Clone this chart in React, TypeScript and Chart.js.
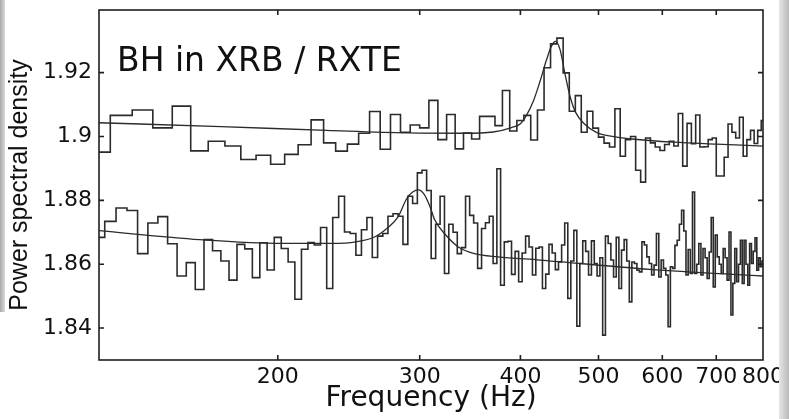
import React, { useEffect, useRef } from 'react';
import { Chart, registerables } from 'chart.js';

Chart.register(...registerables);

// ---- axis ticks ----
const xTickValues = [200, 300, 400, 500, 600, 700, 800];
const yTickValues = [1.84, 1.86, 1.88, 1.9, 1.92];

// ---- binning (bin centres, Hz) ----
const topBinStart = 120;
const topBinStep = 8;
const bottomBinStart = 120;
const bottomBinStep = 4;

// upper spectrum (8 Hz bins, 120 ... 800 Hz)
const topValues = [
  1.8951, 1.9066, 1.9083, 1.9027, 1.9095, 1.8955, 1.8985, 1.8970, 1.8928, 1.8941,
  1.8913, 1.8944, 1.8974, 1.9052, 1.8980, 1.8954, 1.8976, 1.9010, 1.9078, 1.8960,
  1.9069, 1.9013, 1.9036, 1.9027, 1.9113, 1.8990, 1.9069, 1.8961, 1.9011, 1.8992,
  1.9063, 1.9063, 1.9034, 1.9144, 1.9017, 1.9050, 1.9066, 1.8989, 1.9083, 1.9215,
  1.9290, 1.9308, 1.9199, 1.9079, 1.9128, 1.9013, 1.9079, 1.9026, 1.8998, 1.8979,
  1.8967, 1.9087, 1.8938, 1.8990, 1.9000, 1.8894, 1.8857, 1.8995, 1.8980, 1.8967,
  1.8956, 1.8975, 1.8985, 1.8970, 1.9072, 1.8907, 1.9041, 1.8977, 1.9067, 1.8967,
  1.8968, 1.8990, 1.8995, 1.8876, 1.8876, 1.8935, 1.9039, 1.9013, 1.8995, 1.9060,
  1.8938, 1.8990, 1.9019, 1.8978, 1.9019, 1.9050,
];

// lower spectrum (4 Hz bins, 120 ... 800 Hz)
const bottomValues = [
  1.8684, 1.8734, 1.8776, 1.8768, 1.8633, 1.8729, 1.8749, 1.8664, 1.8563, 1.8605,
  1.8521, 1.8677, 1.8642, 1.8610, 1.8550, 1.8662, 1.8648, 1.8558, 1.8667, 1.8582,
  1.8684, 1.8649, 1.8607, 1.8490, 1.8647, 1.8668, 1.8660, 1.8715, 1.8524, 1.8746,
  1.8813, 1.8701, 1.8696, 1.8628, 1.8708, 1.8746, 1.8621, 1.8688, 1.8696, 1.8750,
  1.8758, 1.8750, 1.8662, 1.8813, 1.8790, 1.8886, 1.8894, 1.8831, 1.8618, 1.8725,
  1.8813, 1.8571, 1.8725, 1.8700, 1.8633, 1.8652, 1.8813, 1.8753, 1.8729, 1.8587,
  1.8712, 1.8730, 1.8750, 1.8602, 1.8899, 1.8534, 1.8670, 1.8672, 1.8568, 1.8640,
  1.8545, 1.8635, 1.8688, 1.8654, 1.8566, 1.8650, 1.8654, 1.8524, 1.8569, 1.8662,
  1.8635, 1.8583, 1.8607, 1.8660, 1.8729, 1.8493, 1.8610, 1.8706, 1.8406, 1.8602,
  1.8673, 1.8640, 1.8566, 1.8673, 1.8602, 1.8563, 1.8620, 1.8378, 1.8688, 1.8665,
  1.8613, 1.8560, 1.8684, 1.8524, 1.8644, 1.8677, 1.8610, 1.8482, 1.8607, 1.8602,
  1.8581, 1.8576, 1.8670, 1.8660, 1.8623, 1.8602, 1.8566, 1.8597, 1.8696, 1.8560,
  1.8613, 1.8587, 1.8566, 1.8404, 1.8592, 1.8587, 1.8659, 1.8675, 1.8725, 1.8769,
  1.8704, 1.8566, 1.8646, 1.8571, 1.8826, 1.8571, 1.8600, 1.8665, 1.8566, 1.8649,
  1.8620, 1.8555, 1.8638, 1.8746, 1.8529, 1.8691, 1.8623, 1.8600, 1.8571, 1.8649,
  1.8620, 1.8550, 1.8701, 1.8441, 1.8540, 1.8649, 1.8545, 1.8600, 1.8675, 1.8540,
  1.8675, 1.8600, 1.8534, 1.8665, 1.8602, 1.8640, 1.8683, 1.8581, 1.8620, 1.8592,
  1.8610,
];

// fitted model curves
const topFitFreq = [120, 170, 230, 290, 340, 370, 390, 400, 407, 415, 423, 431, 437, 442, 448, 454, 461, 468, 480, 497, 520, 550, 620, 700, 800];
const topFitValues = [1.9043, 1.9031, 1.9019, 1.9011, 1.9010, 1.9014, 1.9028, 1.9040, 1.9066, 1.9110, 1.9172, 1.9240, 1.9282, 1.9298, 1.9272, 1.9200, 1.9125, 1.9077, 1.9040, 1.9013, 1.9000, 1.8992, 1.8982, 1.8976, 1.8970];
const bottomFitFreq = [120, 160, 203, 234, 250, 264, 274, 282, 289, 294, 299, 304, 309, 313, 322, 335, 351, 375, 423, 579, 800];
const bottomFitValues = [1.8705, 1.8677, 1.8665, 1.8665, 1.8670, 1.8686, 1.8715, 1.8748, 1.8805, 1.8826, 1.8833, 1.8818, 1.8780, 1.8740, 1.8696, 1.8654, 1.8633, 1.8623, 1.8613, 1.8584, 1.8563];

const INK = '#2b2b2b';

const framePlugin = {
  id: 'frame',
  afterDatasetsDraw(chart: any) {
    const { ctx, chartArea, scales } = chart;
    const { left, right, top, bottom } = chartArea;
    const x = scales.x;
    const y = scales.y;
    ctx.save();
    ctx.strokeStyle = '#1e1e1e';
    ctx.lineWidth = 1.6;
    ctx.strokeRect(left, top, right - left, bottom - top);
    ctx.beginPath();
    const tl = 5;
    for (const v of xTickValues) {
      const px = x.getPixelForValue(v);
      if (px >= right - 1) continue;
      ctx.moveTo(px, bottom);
      ctx.lineTo(px, bottom - tl);
      ctx.moveTo(px, top);
      ctx.lineTo(px, top + tl);
    }
    for (const v of yTickValues) {
      const py = y.getPixelForValue(v);
      ctx.moveTo(left, py);
      ctx.lineTo(left + tl, py);
      ctx.moveTo(right, py);
      ctx.lineTo(right - tl, py);
    }
    ctx.stroke();
    ctx.fillStyle = '#111';
    ctx.font = '33px "DejaVu Sans", sans-serif';
    ctx.textAlign = 'left';
    ctx.textBaseline = 'alphabetic';
    ctx.fillText('BH in XRB / RXTE', left + 18, top + 61);
    ctx.restore();
  },
};

export default function App() {
  const ref = useRef<HTMLCanvasElement | null>(null);

  useEffect(() => {
    const canvas = ref.current;
    if (!canvas) return;
    const topPts = topValues.map((v, i) => ({ x: topBinStart + i * topBinStep, y: v }));
    const bottomPts = bottomValues.map((v, i) => ({ x: bottomBinStart + i * bottomBinStep, y: v }));
    const topFitPts = topFitFreq.map((f, i) => ({ x: f, y: topFitValues[i] }));
    const bottomFitPts = bottomFitFreq.map((f, i) => ({ x: f, y: bottomFitValues[i] }));

    const chart = new Chart(canvas, {
      type: 'line',
      data: {
        datasets: [
          { data: topPts, stepped: 'middle', borderColor: INK, borderWidth: 1.6, pointRadius: 0, fill: false },
          { data: bottomPts, stepped: 'middle', borderColor: INK, borderWidth: 1.6, pointRadius: 0, fill: false },
          { data: topFitPts, borderColor: INK, borderWidth: 1.3, pointRadius: 0, fill: false, cubicInterpolationMode: 'monotone' },
          { data: bottomFitPts, borderColor: INK, borderWidth: 1.3, pointRadius: 0, fill: false, cubicInterpolationMode: 'monotone' },
        ] as any,
      },
      options: {
        responsive: false,
        animation: false,
        devicePixelRatio: 1,
        layout: { padding: { top: 10, right: 26, left: 0, bottom: 0 } },
        plugins: { legend: { display: false }, tooltip: { enabled: false } },
        scales: {
          x: {
            type: 'logarithmic',
            min: 120,
            max: 800,
            grid: { display: false, drawTicks: false },
            border: { display: false },
            afterBuildTicks: (s: any) => {
              s.ticks = xTickValues.map((v) => ({ value: v }));
            },
            afterFit: (s: any) => {
              s.height = 59;
              s.paddingLeft = 0;
              s.paddingRight = 0;
            },
            ticks: {
              autoSkip: false,
              maxRotation: 0,
              minRotation: 0,
              padding: 4,
              color: '#111',
              font: { family: '"DejaVu Sans", sans-serif', size: 22 },
              callback: (v: any) => String(v),
            },
            title: {
              display: true,
              text: 'Frequency (Hz)',
              color: '#111',
              font: { family: '"DejaVu Sans", sans-serif', size: 28 },
              padding: { top: 0, bottom: 3 },
            },
          },
          y: {
            type: 'linear',
            min: 1.83,
            max: 1.9396,
            grid: { display: false, drawTicks: false },
            border: { display: false },
            afterBuildTicks: (s: any) => {
              s.ticks = yTickValues.map((v) => ({ value: v }));
            },
            afterFit: (s: any) => {
              s.width = 99;
              s.paddingTop = 0;
              s.paddingBottom = 0;
            },
            ticks: {
              padding: 7,
              color: '#111',
              font: { family: '"DejaVu Sans", sans-serif', size: 22 },
              callback: (v: any) => String(Number(Number(v).toFixed(2))),
            },
            title: {
              display: true,
              text: 'Power spectral density',
              color: '#111',
              font: { family: '"Liberation Sans", Arial, sans-serif', size: 25 },
              padding: { top: 5, bottom: 0 },
            },
          },
        },
      } as any,
      plugins: [framePlugin],
    });
    return () => chart.destroy();
  }, []);

  return (
    <div style={{ position: 'absolute', left: 0, top: 0, width: 789, height: 419, background: '#fff', overflow: 'hidden' }}>
      <canvas ref={ref} width={789} height={419} style={{ display: 'block' }} />
      <div style={{ position: 'absolute', left: 0, top: 0, width: 5, height: 312, background: 'linear-gradient(to right, #a8a8a8, #dadada)' }} />
      <div style={{ position: 'absolute', left: 779, top: 0, width: 10, height: 419, background: 'linear-gradient(to right, #e6e6e6, #b9b9b9)' }} />
    </div>
  );
}
